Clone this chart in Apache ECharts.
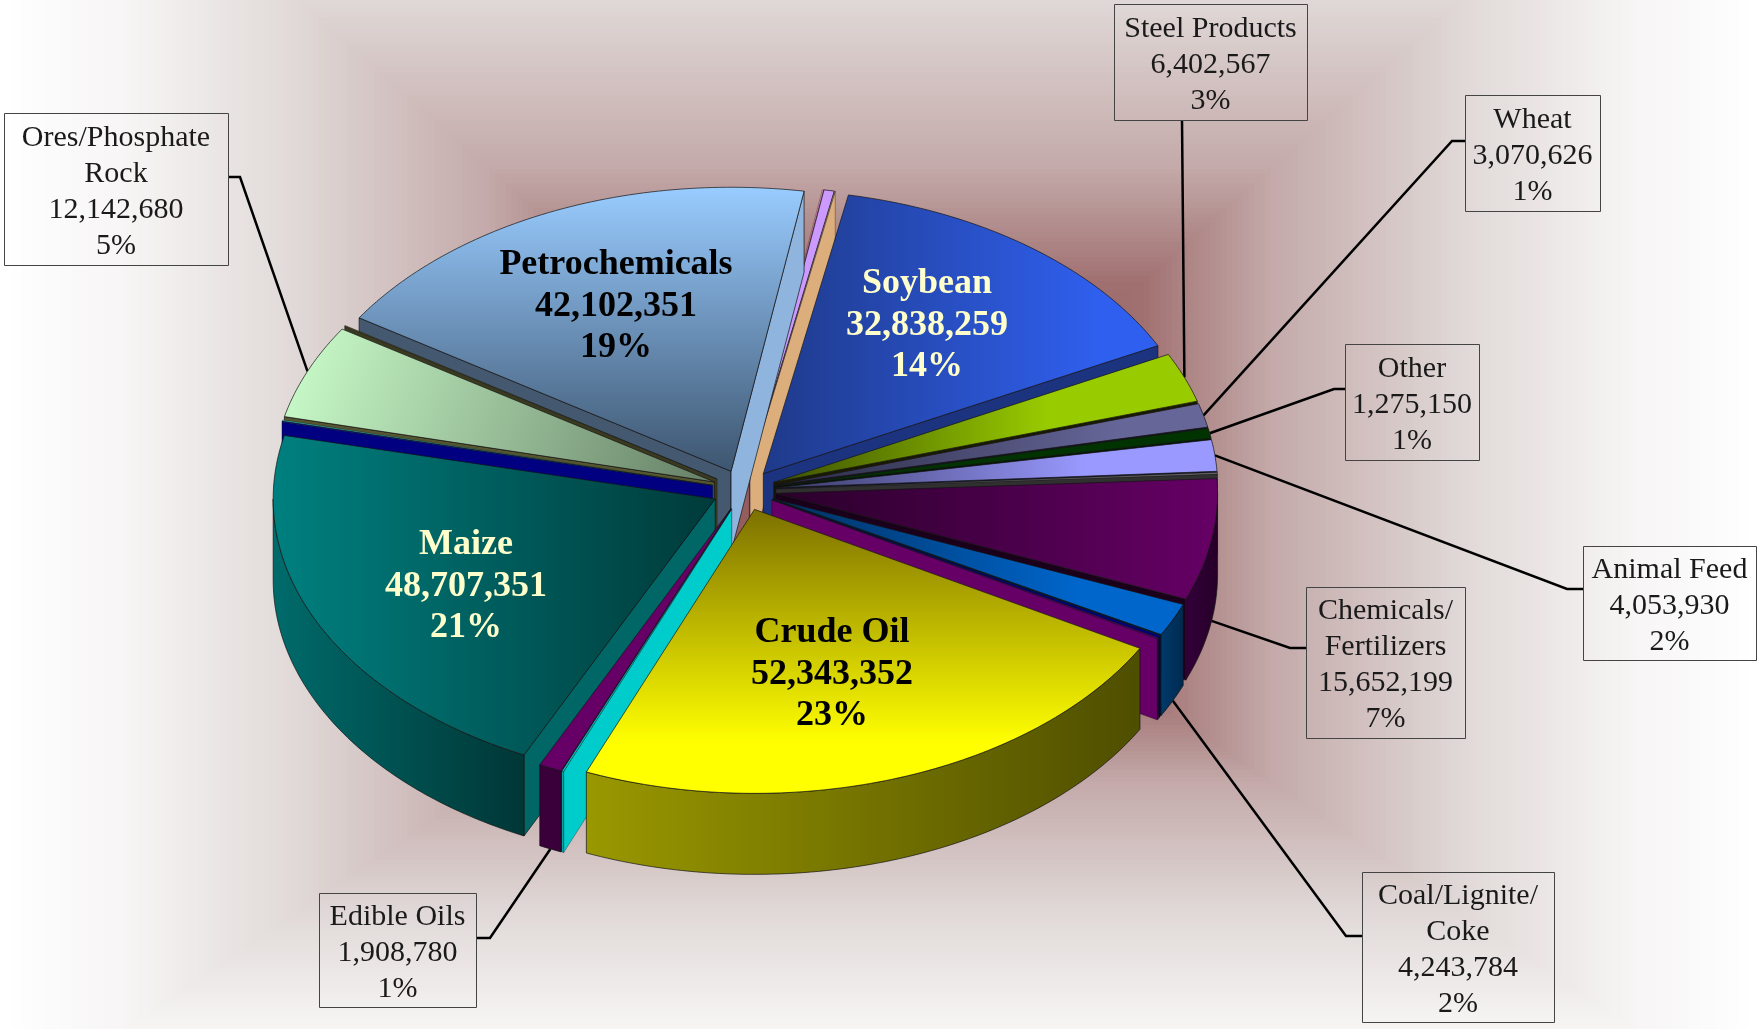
<!DOCTYPE html>
<html>
<head>
<meta charset="utf-8">
<title>Commodity tonnage</title>
<script src="https://cdn.jsdelivr.net/npm/echarts@6/dist/echarts.min.js"></script>
<style>
html, body { margin: 0; padding: 0; background: #fff; }
#main { width: 1759px; height: 1029px; }
</style>
</head>
<body>
<div id="main"></div>
<script>
// slices clockwise, starting from Crude Oil. names left empty are the unlabelled slivers
var sliceNames = ['Crude Oil', '', 'Edible Oils', 'Maize', '', '', 'Ores/Phosphate\nRock', '', 'Petrochemicals',
    '', '', '', 'Soybean', 'Steel Products', 'Wheat', 'Other', 'Animal Feed', '', 'Chemicals/\nFertilizers',
    'Coal/Lignite/\nCoke', '', ''];
var sliceValues = [52343352, 150000, 1908780, 48707351, 100000, 150000, 12142680, 80000, 42102351,
    100000, 850000, 50000, 32838259, 6402567, 3070626, 1275150, 4053930, 200000, 15652199,
    4243784, 300000, 150000];

// top face [first colour, second colour, direction, offset of second colour], radial face, outer wall [left, right]
var topStyles = [
    ['#7c7000', '#ffff00', 'v', 0.82], ['#00cccc', '#00cccc', 'v'], ['#660066', '#660066', 'v'], ['#008080', '#003a3a', 'h'],
    ['#000080', '#000080', 'v'], ['#33cccc', '#33cccc', 'v'], ['#ccffcc', '#667f66', 'd'], ['#55552a', '#55552a', 'v'],
    ['#99ccff', '#3d5570', 'v'], ['#ff99cc', '#c0605a', 'v'], ['#cc99ff', '#cc99ff', 'v'], ['#dcae7c', '#dcae7c', 'v'],
    ['#1f3a8a', '#2f5fee', 'h', 0.85], ['#3c5000', '#99cc00', 'h', 0.65], ['#2a2a44', '#666699', 'h', 0.8], ['#003300', '#003300', 'h'],
    ['#3a3a66', '#9999ff', 'h', 0.7], ['#707070', '#707070', 'h'], ['#2a002a', '#660066', 'h'],
    ['#003060', '#0066cc', 'h', 0.75], ['#000080', '#000080', 'h'], ['#660066', '#660066', 'h']];
var faceColors = ['#4e4e00', '#00cccc', '#3a003a', '#006666', '#000080', '#33cccc', '#555530', '#3a3a20', '#8fb4de',
    '#c0605a', '#cc99ff', '#dcae7c', '#1c3380', '#1a1a00', '#14142a', '#001500', '#1a1a33', '#303030', '#1a001a',
    '#001a33', '#000080', '#660066'];
var startFaces = { 8: '#44586f' };
var wallColors = [['#9a9800', '#4e4e00'], ['#00cccc', '#00aaaa'], ['#3a003a', '#3a003a'], ['#006b6b', '#003636'],
    ['#000060', '#000060'], ['#228888', '#228888'], ['#889988', '#556655'], ['#333320', '#333320'], ['#5a7a9c', '#3d5570'],
    ['#a05050', '#a05050'], ['#8866aa', '#8866aa'], ['#a07c58', '#a07c58'], ['#1c3380', '#1c3380'], ['#506600', '#506600'],
    ['#333355', '#333355'], ['#001a00', '#001a00'], ['#4c4c80', '#4c4c80'], ['#404040', '#404040'], ['#33003a', '#260028'],
    ['#003a6a', '#002a50'], ['#000060', '#000060'], ['#3a003a', '#3a003a']];

// labels printed on the big slices: slice index, centre x, first line y, colour
var innerLabels = [[0, 832, 633, '#000'], [3, 466, 545, '#ffffcc'], [8, 616, 265, '#000'], [12, 927, 284, '#ffffcc']];
// callout boxes: slice index, box [x, y, w, h], elbow point(s) from the box to the slice
var callouts = [
    [6, [4, 113, 224, 152], [[228, 177], [240, 177]]],
    [13, [1114, 4, 193, 116], [[1182, 120]]],
    [14, [1465, 95, 135, 116], [[1465, 141], [1452, 141]]],
    [15, [1345, 344, 134, 116], [[1345, 389], [1334, 389]]],
    [16, [1583, 546, 173, 114], [[1583, 589], [1567, 589]]],
    [18, [1306, 587, 159, 151], [[1306, 648], [1290, 648]]],
    [19, [1362, 872, 192, 150], [[1362, 936], [1346, 936]]],
    [2, [319, 893, 157, 114], [[476, 938], [490, 938]]]
];

var cx = 744, cy = 490, rx = 442, ry = 284, depth = 81;
var explodeX = 32, explodeY = 20.5, firstAngle = 119.3;

var total = sliceValues.reduce(function (a, b) { return a + b; }, 0);
var geoms = [];
var angle = firstAngle;
for (var i = 0; i < sliceValues.length; i++) {
    var span = sliceValues[i] / total * 360;
    var mid = angle + span / 2;
    geoms.push({
        start: angle, end: angle + span, mid: mid,
        tx: cx + explodeX * sin(mid), ty: cy - explodeY * cos(mid)
    });
    angle += span;
}

function sin(d) { return Math.sin(d * Math.PI / 180); }
function cos(d) { return Math.cos(d * Math.PI / 180); }
function rim(g, d) { return [g.tx + rx * sin(d), g.ty - ry * cos(d)]; }
function down(p) { return [p[0], p[1] + depth]; }
function arc(g, a, b) {
    var pts = [];
    var n = Math.max(2, Math.ceil(b - a));
    for (var k = 0; k <= n; k++) {
        pts.push(rim(g, a + (b - a) * k / n));
    }
    return pts;
}
function grad(c1, c2, dir, off) {
    var g = { type: 'linear', x: 0, y: 0, x2: 1, y2: 0, colorStops: [{ offset: 0, color: c1 }, { offset: off || 1, color: c2 }, { offset: 1, color: c2 }] };
    if (dir === 'v') { g.x2 = 0; g.y2 = 1; }
    if (dir === 'd') { g.x2 = 1; g.y2 = 1; }
    return g;
}
function poly(points, fill, thin) {
    return {
        type: 'polygon', shape: { points: points },
        style: { fill: fill, stroke: 'rgba(20,20,20,0.7)', lineWidth: thin ? 0.5 : 1 }
    };
}

function renderSlice(params, api) {
    var i = api.value(0);
    var g = geoms[i];
    var tip = [g.tx, g.ty];
    var thin = g.end - g.start < 1;
    var kids = [];
    // radial faces that look towards the viewer
    if (sin(g.start) < 0) {
        var s = rim(g, g.start);
        kids.push(poly([tip, s, down(s), down(tip)], startFaces[i] || faceColors[i], thin));
    }
    if (sin(g.end) > 0) {
        var e = rim(g, g.end);
        kids.push(poly([tip, e, down(e), down(tip)], faceColors[i], thin));
    }
    // outer wall, front half only
    [0, 360].forEach(function (k) {
        var lo = Math.max(g.start, 90 + k), hi = Math.min(g.end, 270 + k);
        if (hi > lo) {
            var top = arc(g, lo, hi);
            var low = top.map(down).reverse();
            kids.push(poly(top.concat(low), grad(wallColors[i][0], wallColors[i][1], 'h'), thin));
        }
    });
    var st = topStyles[i];
    kids.push(poly([tip].concat(arc(g, g.start, g.end)), grad(st[0], st[1], st[2], st[3]), thin));
    return { type: 'group', children: kids };
}

function labelLines(i) {
    var lines = sliceNames[i].split('\n');
    lines.push(sliceValues[i].toLocaleString('en-US'));
    lines.push(Math.round(sliceValues[i] / total * 100) + '%');
    return lines;
}

function renderCallout(params, api) {
    var c = callouts[api.value(0)];
    var g = geoms[c[0]];
    var b = c[1];
    var end = rim(g, g.mid);
    if (cos(g.mid) < 0) { end = down(end); }
    var kids = [{
        type: 'polyline', shape: { points: c[2].concat([end]) },
        style: { fill: 'none', stroke: '#000', lineWidth: 2.5 }
    }, {
        type: 'rect', shape: { x: b[0] + 0.5, y: b[1] + 0.5, width: b[2], height: b[3] },
        style: { fill: 'none', stroke: '#444', lineWidth: 1 }
    }];
    var lines = labelLines(c[0]);
    lines.forEach(function (t, n) {
        kids.push({
            type: 'text',
            style: {
                text: t, x: b[0] + b[2] / 2, y: b[1] + b[3] / 2 + 3 + (n - (lines.length - 1) / 2) * 36,
                font: '30px "Liberation Serif"', fill: '#1a1a1a', align: 'center', verticalAlign: 'middle'
            }
        });
    });
    return { type: 'group', children: kids };
}

function renderInnerLabel(params, api) {
    var l = innerLabels[api.value(0)];
    var kids = labelLines(l[0]).map(function (t, n) {
        return {
            type: 'text',
            style: {
                text: t, x: l[1], y: l[2] + n * 41.5,
                font: 'bold 36px "Liberation Serif"', fill: l[3], align: 'center', verticalAlign: 'middle'
            }
        };
    });
    return { type: 'group', children: kids };
}

// background: rectangular path gradient, white at the edge and dark red in the middle
var bgStops = [[0, [136, 72, 72]], [0.3, [160, 112, 112]], [0.45, [196, 170, 170]], [0.66, [223, 216, 214]], [0.86, [247, 245, 245]], [1, [255, 255, 255]]];
function bgColor(t) {
    for (var k = 1; k < bgStops.length; k++) {
        if (t <= bgStops[k][0]) {
            var a = bgStops[k - 1], b = bgStops[k];
            var f = (t - a[0]) / (b[0] - a[0]);
            return 'rgb(' + [0, 1, 2].map(function (c) { return Math.round(a[1][c] + (b[1][c] - a[1][c]) * f); }).join(',') + ')';
        }
    }
    return '#fff';
}
var bgRects = [];
for (var n = 160; n > 0; n--) {
    var t = n / 160;
    bgRects.push({
        type: 'rect', silent: true,
        shape: { x: 880 - 880 * t, y: 515 - 780 * t, width: 1760 * t, height: 1380 * t },
        style: { fill: bgColor(t) }
    });
}

// back slices first so the front ones paint over them
var drawOrder = sliceValues.map(function (v, k) { return k; }).sort(function (a, b) {
    return cos(geoms[b].mid) - cos(geoms[a].mid);
});

var myChart = echarts.init(document.getElementById('main'));

var option = {
    animation: false,
    graphic: { elements: bgRects },
    series: [
        { type: 'custom', coordinateSystem: 'none', silent: true, renderItem: renderCallout, data: callouts.map(function (c, k) { return [k]; }) },
        { type: 'custom', coordinateSystem: 'none', silent: true, renderItem: renderSlice, data: drawOrder.map(function (k) { return [k]; }) },
        { type: 'custom', coordinateSystem: 'none', silent: true, renderItem: renderInnerLabel, data: innerLabels.map(function (c, k) { return [k]; }) }
    ]
};

myChart.setOption(option);
</script>
</body>
</html>
